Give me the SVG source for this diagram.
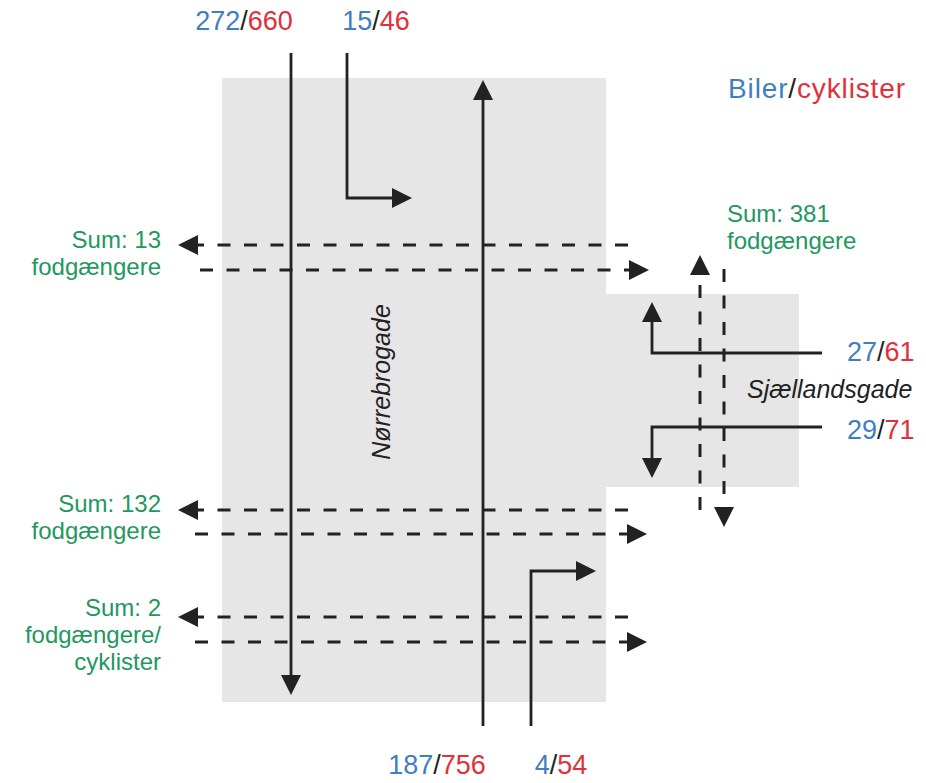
<svg xmlns="http://www.w3.org/2000/svg" width="926" height="783" viewBox="0 0 926 783">
<style>
.t{font-family:"Liberation Sans",Arial,sans-serif;}
.n{font-size:27px;}
.g{font-size:24px;fill:#22985e;}
.b{fill:#3f7fc0;}
.r{fill:#e0303c;}
.k{fill:#222;}
.it{font-size:25px;font-style:italic;fill:#222;}
.s{fill:none;stroke:#222;stroke-width:2.8;}
.d{fill:none;stroke:#222;stroke-width:3;stroke-dasharray:13 13.5;}
</style>
<defs>
<marker id="ah" viewBox="0 0 20 20" markerUnits="userSpaceOnUse" markerWidth="20" markerHeight="20" refX="14" refY="10" orient="auto">
<path d="M0,0 L20,10 L0,20 Z" fill="#222"/>
</marker>
</defs>
<rect width="926" height="783" fill="#fff"/>
<g id="roads">
<path d="M222,78 H606 V294 H799 V487 H606 V702 H222 Z" fill="#e6e6e6"/>
</g>
<g id="connectors">
<path class="s" d="M291,53 V689" marker-end="url(#ah)"/>
<path class="s" d="M483,726 V86" marker-end="url(#ah)"/>
<path class="s" d="M347,53 V198 H406" marker-end="url(#ah)"/>
<path class="s" d="M531,726 V571 H590" marker-end="url(#ah)"/>
<path class="s" d="M822,353 H652 V308" marker-end="url(#ah)"/>
<path class="s" d="M822,427 H652 V472" marker-end="url(#ah)"/>
<path class="d" d="M628,245 H184" marker-end="url(#ah)"/>
<path class="d" d="M200,270 H643" marker-end="url(#ah)"/>
<path class="d" d="M628,510 H184" marker-end="url(#ah)"/>
<path class="d" d="M195,534 H641" marker-end="url(#ah)"/>
<path class="d" d="M628,617 H184" marker-end="url(#ah)"/>
<path class="d" d="M195,642 H641" marker-end="url(#ah)"/>
<path class="d" d="M700,510 V261" marker-end="url(#ah)"/>
<path class="d" d="M724,269 V521" marker-end="url(#ah)"/>
</g>
<g id="legend"><text class="t" x="728" y="98" font-size="28" textLength="177" lengthAdjust="spacing"><tspan class="b">Biler</tspan><tspan class="k">/</tspan><tspan class="r">cyklister</tspan></text></g>
<g id="count-272-660"><text class="t n" x="244" y="30" text-anchor="middle"><tspan class="b">272</tspan><tspan class="k">/</tspan><tspan class="r">660</tspan></text></g>
<g id="count-15-46"><text class="t n" x="376" y="30" text-anchor="middle"><tspan class="b">15</tspan><tspan class="k">/</tspan><tspan class="r">46</tspan></text></g>
<g id="count-187-756"><text class="t n" x="437" y="774" text-anchor="middle"><tspan class="b">187</tspan><tspan class="k">/</tspan><tspan class="r">756</tspan></text></g>
<g id="count-4-54"><text class="t n" x="561" y="774" text-anchor="middle"><tspan class="b">4</tspan><tspan class="k">/</tspan><tspan class="r">54</tspan></text></g>
<g id="count-27-61"><text class="t n" x="847" y="361"><tspan class="b">27</tspan><tspan class="k">/</tspan><tspan class="r">61</tspan></text></g>
<g id="count-29-71"><text class="t n" x="847" y="439"><tspan class="b">29</tspan><tspan class="k">/</tspan><tspan class="r">71</tspan></text></g>
<g id="street-norrebrogade"><text class="t it" transform="translate(390,382) rotate(-90)" text-anchor="middle">Nørrebrogade</text></g>
<g id="street-sjaellandsgade"><text class="t it" x="747" y="398">Sjællandsgade</text></g>
<g id="sum-13"><text class="t g" text-anchor="end"><tspan x="161" y="248">Sum: 13</tspan><tspan x="161" y="275">fodgængere</tspan></text></g>
<g id="sum-132"><text class="t g" text-anchor="end"><tspan x="161" y="512">Sum: 132</tspan><tspan x="161" y="539">fodgængere</tspan></text></g>
<g id="sum-2"><text class="t g" text-anchor="end"><tspan x="161" y="616">Sum: 2</tspan><tspan x="161" y="643">fodgængere/</tspan><tspan x="161" y="670">cyklister</tspan></text></g>
<g id="sum-381"><text class="t g"><tspan x="727" y="222">Sum: 381</tspan><tspan x="727" y="249">fodgængere</tspan></text></g>
</svg>
